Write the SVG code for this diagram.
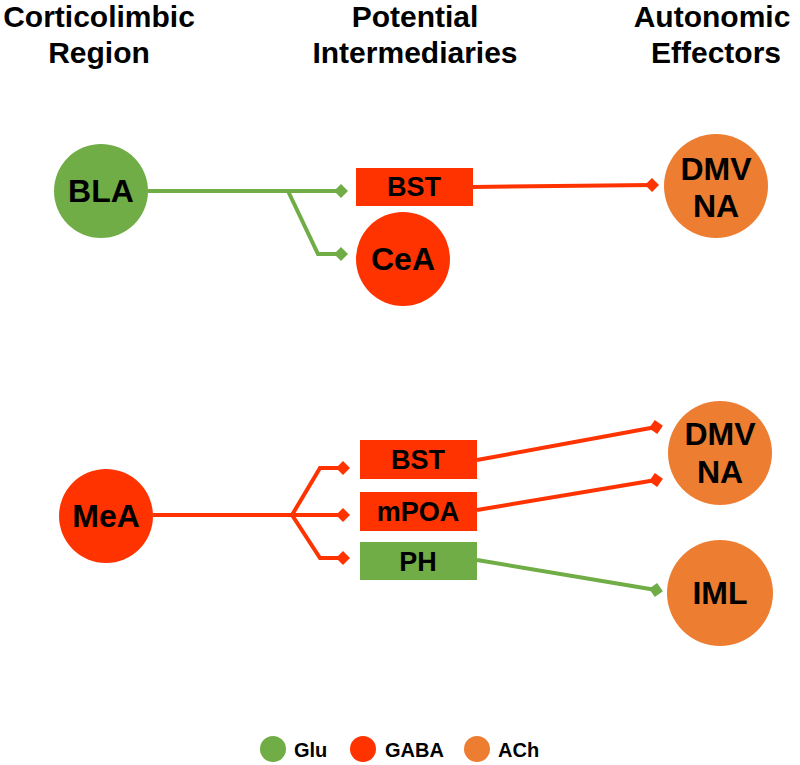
<svg xmlns="http://www.w3.org/2000/svg" width="800" height="765" viewBox="0 0 800 765">
<style>
text{font-family:"Liberation Sans",Arial,sans-serif;font-weight:bold;fill:#000;text-anchor:middle}
.h{font-size:30px}
.n{font-size:32px}
.r{font-size:27px}
.lg{font-size:20px;text-anchor:start}
.g{fill:#70AD47}.rd{fill:#FF3300}.o{fill:#ED7D31}
.cg{stroke:#70AD47;stroke-width:4;fill:none}
.cr{stroke:#FF3300;stroke-width:4;fill:none}
</style>
<defs>
<marker id="dg" viewBox="-7 -7 14 14" markerWidth="14" markerHeight="14" markerUnits="userSpaceOnUse" refX="0" refY="0" orient="auto"><path d="M-7 0L0-7L7 0L0 7Z" fill="#70AD47"/></marker>
<marker id="dr" viewBox="-7 -7 14 14" markerWidth="14" markerHeight="14" markerUnits="userSpaceOnUse" refX="0" refY="0" orient="auto"><path d="M-7 0L0-7L7 0L0 7Z" fill="#FF3300"/></marker>
</defs>
<g id="headers">
<text class="h" x="99" y="27">Corticolimbic</text>
<text class="h" x="99" y="63">Region</text>
<text class="h" x="415" y="27">Potential</text>
<text class="h" x="415" y="63">Intermediaries</text>
<text class="h" x="712" y="27">Autonomic</text>
<text class="h" x="716" y="63">Effectors</text>
</g>
<g id="connectors">
<polyline class="cg" points="148,191 341,191" marker-end="url(#dg)"/>
<polyline class="cg" points="288,191 318,254 341,254" marker-end="url(#dg)"/>
<polyline class="cr" points="473,187 652,185" marker-end="url(#dr)"/>
<polyline class="cr" points="153,515 343,515" marker-end="url(#dr)"/>
<polyline class="cr" points="292,515 320,468 343,468" marker-end="url(#dr)"/>
<polyline class="cr" points="292,515 320,558 343,558" marker-end="url(#dr)"/>
<polyline class="cr" points="477,460 656,427" marker-end="url(#dr)"/>
<polyline class="cr" points="477,510 656,480" marker-end="url(#dr)"/>
<polyline class="cg" points="477,560 656,590" marker-end="url(#dg)"/>
</g>
<g id="BLA"><circle class="g" cx="101" cy="191" r="47"/><text class="n" x="101" y="202">BLA</text></g>
<g id="BST1"><rect class="rd" x="356" y="168" width="117" height="38"/><text class="r" x="414" y="196">BST</text></g>
<g id="CeA"><circle class="rd" cx="403" cy="259" r="47"/><text class="n" x="403" y="270">CeA</text></g>
<g id="DMVNA1"><circle class="o" cx="716" cy="186" r="52"/><text class="n" x="716" y="180">DMV</text><text class="n" x="716" y="217">NA</text></g>
<g id="MeA"><circle class="rd" cx="106" cy="516" r="47"/><text class="n" x="106" y="527">MeA</text></g>
<g id="BST2"><rect class="rd" x="360" y="440" width="117" height="39"/><text class="r" x="418" y="469">BST</text></g>
<g id="mPOA"><rect class="rd" x="360" y="492" width="117" height="39"/><text class="r" x="418" y="521">mPOA</text></g>
<g id="PH"><rect class="g" x="360" y="542" width="117" height="38"/><text class="r" x="418" y="571">PH</text></g>
<g id="DMVNA2"><circle class="o" cx="720" cy="453" r="52"/><text class="n" x="720" y="445">DMV</text><text class="n" x="720" y="483">NA</text></g>
<g id="IML"><circle class="o" cx="720" cy="593" r="53"/><text class="n" x="720" y="604">IML</text></g>
<g id="legend">
<circle class="g" cx="273" cy="749" r="13"/><text class="lg" x="294" y="757">Glu</text>
<circle class="rd" cx="363" cy="749" r="13"/><text class="lg" x="385" y="757">GABA</text>
<circle class="o" cx="477" cy="749" r="13"/><text class="lg" x="498" y="757">ACh</text>
</g>
</svg>
